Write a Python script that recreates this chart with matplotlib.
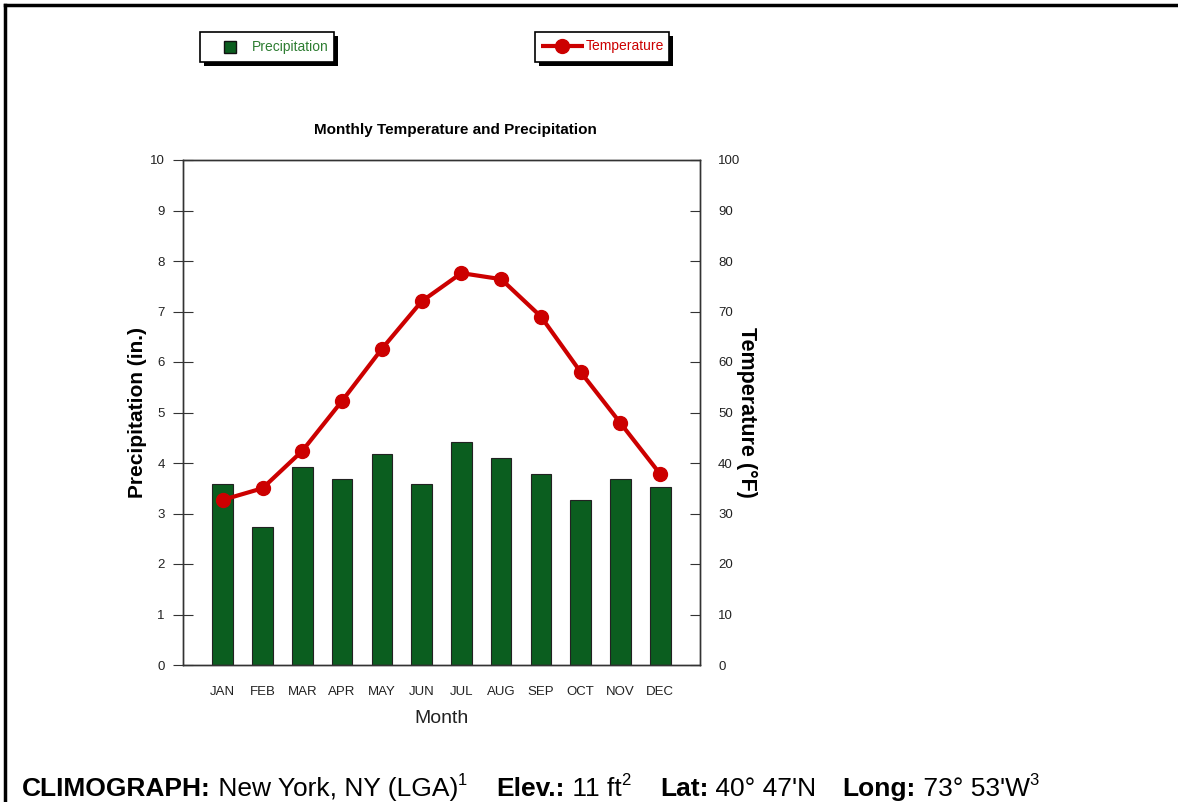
import matplotlib
matplotlib.use("Agg")
import matplotlib.pyplot as plt
from matplotlib.patches import Rectangle
from matplotlib.lines import Line2D

months = ["JAN", "FEB", "MAR", "APR", "MAY", "JUN", "JUL", "AUG", "SEP", "OCT", "NOV", "DEC"]
precip = [3.58, 2.74, 3.93, 3.68, 4.17, 3.58, 4.41, 4.09, 3.78, 3.26, 3.68, 3.52]
temp = [32.7, 35.0, 42.4, 52.3, 62.6, 72.0, 77.6, 76.4, 69.0, 58.0, 47.9, 37.8]

GREEN = "#0b5e1f"
RED = "#cc0000"
W, H = 1178, 802

plt.rcParams['font.family'] = ['Liberation Sans', 'DejaVu Sans']

fig = plt.figure(figsize=(W / 100, H / 100), dpi=100)
fig.patch.set_facecolor("white")

# outer frame (top and left only)
fig.add_artist(Line2D([5 / W, 1], [1 - 5 / H, 1 - 5 / H], color="black", lw=2.5))
fig.add_artist(Line2D([5 / W, 5 / W], [0, 1 - 5 / H], color="black", lw=2.5))

ax = fig.add_axes([183 / W, 137 / H, 517 / W, 505 / H])
x = list(range(len(months)))
ax.bar(x, precip, width=0.52, color=GREEN, edgecolor="#222222", linewidth=0.8, zorder=2)
ax.set_xlim(-1, 12)
ax.set_ylim(0, 10)
ax.set_yticks(range(0, 11))
ax.set_xticks(x)
ax.set_xticklabels(months, fontsize=9.5, color="#222222")
ax.tick_params(axis="x", length=0, pad=15)
ax.tick_params(axis="y", direction="inout", length=14, width=0.8, color="#333333",
               labelsize=9.5, labelcolor="#222222", pad=6)
for s in ax.spines.values():
    s.set_linewidth(1.0)
    s.set_color("#333333")
ax.set_xlabel("Month", fontsize=14, labelpad=9, color="#222222")
ax.set_ylabel("Precipitation (in.)", fontsize=15, fontweight="bold", labelpad=2)

ax2 = ax.twinx()
ax2.plot(x, temp, color=RED, lw=3, marker="o", markersize=10, zorder=3)
ax2.set_ylim(0, 100)
ax2.set_yticks(range(0, 101, 10))
ax2.tick_params(axis="y", direction="in", length=7, width=0.8, color="#333333",
                labelsize=9.5, labelcolor="#222222", pad=13)
ax2.set_ylabel("Temperature (°F)", fontsize=15.5, fontweight="bold", rotation=270, labelpad=12)
for s in ax2.spines.values():
    s.set_linewidth(1.0)
    s.set_color("#333333")

fig.text(455 / W, 1 - 130 / H, "Monthly Temperature and Precipitation",
         ha="center", va="center", fontsize=11, fontweight="bold")


# legend boxes with drop shadow
def legend_box(x0, y0, w, h):
    fig.add_artist(Rectangle((x0 / W + 4 / W, 1 - (y0 + h + 4) / H), w / W, h / H,
                             transform=fig.transFigure, facecolor="black", edgecolor="none"))
    fig.add_artist(Rectangle((x0 / W, 1 - (y0 + h) / H), w / W, h / H,
                             transform=fig.transFigure, facecolor="white",
                             edgecolor="black", lw=1.2))


legend_box(200, 32, 134, 30)
fig.add_artist(Line2D([230 / W], [1 - 47 / H], marker="s", markersize=8,
                      markerfacecolor=GREEN, markeredgecolor="#111111", lw=0))
fig.text(252 / W, 1 - 47 / H, "Precipitation", color="#2e7d32", fontsize=10, va="center")

legend_box(535, 32, 134, 30)
fig.add_artist(Line2D([541 / W, 584 / W], [1 - 46 / H, 1 - 46 / H], color=RED, lw=3,
                      solid_capstyle="butt"))
fig.add_artist(Line2D([562 / W], [1 - 46 / H], marker="o", markersize=10, color=RED, lw=0))
fig.text(586 / W, 1 - 46 / H, "Temperature", color=RED, fontsize=10, va="center")

# footer line built from pieces
pieces = [
    ("CLIMOGRAPH:", "bold", False, 0),
    (" New York, NY (LGA)", "normal", False, 0),
    ("1", "normal", True, 0),
    ("Elev.:", "bold", False, 26),
    (" 11 ft", "normal", False, 0),
    ("2", "normal", True, 0),
    ("Lat:", "bold", False, 26),
    (" 40° 47'N", "normal", False, 0),
    ("Long:", "bold", False, 26),
    (" 73° 53'W", "normal", False, 0),
    ("3", "normal", True, 0),
]
renderer = fig.canvas.get_renderer()
cx = 22
base = 796
for txt, weight, sup, gap in pieces:
    cx += gap
    if sup:
        t = fig.text(cx / W, 1 - (base - 11) / H, txt, fontsize=12, fontweight=weight,
                     va="baseline")
    else:
        t = fig.text(cx / W, 1 - base / H, txt, fontsize=19, fontweight=weight,
                     va="baseline")
    bb = t.get_window_extent(renderer)
    cx += bb.width + (3 if sup else 0)

fig.savefig("out.png", dpi=100, facecolor="white")
